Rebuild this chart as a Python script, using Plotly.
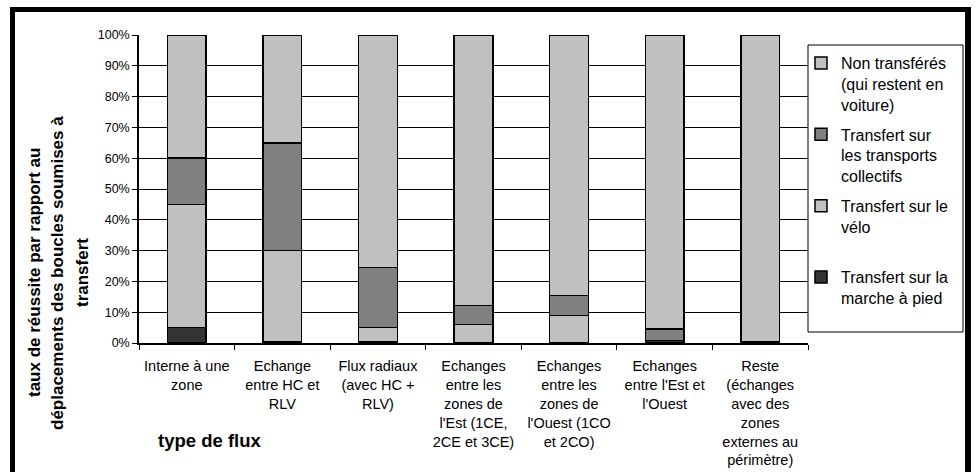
import plotly.graph_objects as go

categories = [
    "Interne à une<br>zone",
    "Echange<br>entre HC et<br>RLV",
    "Flux radiaux<br>(avec HC +<br>RLV)",
    "Echanges<br>entre les<br>zones de<br>l'Est (1CE,<br>2CE et 3CE)",
    "Echanges<br>entre les<br>zones de<br>l'Ouest (1CO<br>et 2CO)",
    "Echanges<br>entre l'Est et<br>l'Ouest",
    "Reste<br>(échanges<br>avec des<br>zones<br>externes au<br>périmètre)",
]
marche = [5, 0.5, 0.5, 0, 0, 0.8, 0.5]
velo = [40, 29.5, 4.5, 6, 9, 0, 0]
tc = [15, 35, 19.5, 6.2, 6.5, 3.7, 0]
non_transferes = [40, 35, 75.5, 87.8, 84.5, 95.5, 99.5]
y_ticks = [0, 10, 20, 30, 40, 50, 60, 70, 80, 90, 100]
y_ticklabels = [f"{v}%" for v in y_ticks]

series = [
    ("Transfert sur la<br>marche à pied", marche, "#333333", 4),
    ("Transfert sur le<br>vélo<br> ", velo, "#C0C0C0", 3),
    ("Transfert sur<br>les transports<br>collectifs", tc, "#808080", 2),
    ("Non transférés<br>(qui restent en<br>voiture)", non_transferes, "#C0C0C0", 1),
]

W, H = 976, 472
L, R, T, B = 139, 808, 35, 343


def px(x):
    return (x - L) / (R - L)


def py(y):
    return (B - y) / (B - T)


FONT = "Liberation Sans, Arial, sans-serif"

fig = go.Figure()
for name, vals, col, rank in series:
    fig.add_trace(go.Bar(
        x=categories, y=vals, name=name, legendrank=rank, legendgroup=f"g{rank}",
        marker=dict(color=col, line=dict(color="black", width=1.5)),
        width=0.405,
    ))

fig.update_layout(
    width=W, height=H,
    margin=dict(l=L, r=W - R, t=T, b=H - B, pad=0, autoexpand=False),
    barmode="stack",
    plot_bgcolor="white", paper_bgcolor="white",
    font=dict(family=FONT, color="black"),
    showlegend=True,
    legend=dict(
        x=px(801), xanchor="left", y=py(46), yanchor="top",
        traceorder="grouped", tracegroupgap=6,
        borderwidth=0, bgcolor="rgba(0,0,0,0)",
        font=dict(size=16, family=FONT, color="black"),
        valign="top", itemwidth=30,
    ),
    xaxis=dict(
        showline=True, linecolor="black", linewidth=1.5,
        ticks="outside", tickson="boundaries", ticklen=5, tickcolor="black",
        tickfont=dict(size=14.5, family=FONT),
        ticklabelstandoff=9, automargin=False,
        showgrid=False, tickangle=0,
    ),
    yaxis=dict(
        range=[0, 100], tickvals=y_ticks, ticktext=y_ticklabels,
        showline=True, linecolor="black", linewidth=1.5,
        ticks="outside", ticklen=5, tickcolor="black",
        tickfont=dict(size=12.5, family=FONT), automargin=False,
        showgrid=True, gridcolor="black", gridwidth=1,
        zeroline=False,
    ),
)

# legend box
fig.add_shape(type="rect", xref="paper", yref="paper",
              x0=px(808), x1=px(963), y0=py(332), y1=py(45),
              line=dict(color="black", width=1), fillcolor="rgba(0,0,0,0)",
              layer="below")

# outer frame
for x0, y0, x1, y1 in [(10, 7, 15, 480), (10, 7, 971, 12), (965, 7, 971, 480)]:
    fig.add_shape(type="rect", xref="paper", yref="paper",
                  x0=px(x0), x1=px(x1), y0=py(y0), y1=py(y1),
                  fillcolor="black", line=dict(width=0), layer="above")

# y-axis title (three lines)
for text, xc in [("taux de réussite par rapport au", 34),
                 ("déplacements des boucles soumises à", 57),
                 ("transfert", 82)]:
    fig.add_annotation(text=f"<b>{text}</b>", xref="paper", yref="paper",
                       x=px(xc), y=py(273), xanchor="center", yanchor="middle",
                       textangle=-90, showarrow=False,
                       font=dict(size=17, family=FONT, color="black"))

# x-axis title
fig.add_annotation(text="<b>type de flux</b>", xref="paper", yref="paper",
                   x=px(156), y=py(440), xanchor="left", yanchor="middle",
                   showarrow=False, font=dict(size=18.5, family=FONT, color="black"))

fig.write_html("out.html", config={"displayModeBar": False},
               post_script="document.body.style.margin='0';")
